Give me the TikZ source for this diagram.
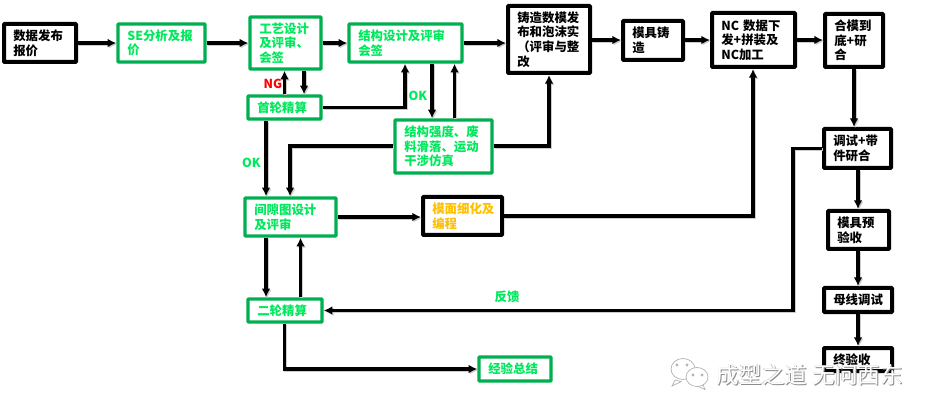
\documentclass[tikz,border=0pt]{standalone}
\usepackage{fontspec}
\setmainfont{Noto Sans CJK SC}
\usetikzlibrary{arrows.meta,shadows,calc}
\definecolor{gborder}{HTML}{00B050}
\definecolor{gtext}{HTML}{00E85C}
\definecolor{otext}{HTML}{FFC000}
\definecolor{wm}{HTML}{8C8C8C}
\tikzset{
  x=0.75pt,y=-0.75pt,
  txtfont/.style={font=\fontsize{9.3pt}{11pt}\selectfont\bfseries},
  boxbase/.style={txtfont,rectangle,rounded corners=0.6pt,fill=white,inner sep=0pt,align=left,
     drop shadow={shadow xshift=0.8pt,shadow yshift=-0.8pt,opacity=.2,fill=black}},
  gbox/.style={boxbase,draw=gborder,line width=2.6pt,text=gtext},
  kbox/.style={boxbase,draw=black,line width=3pt,text=black},
  obox/.style={boxbase,draw=black,line width=3pt,text=otext},
  conn/.style={draw=black,line width=2.4pt,-{Latex[length=6.5pt,width=6.5pt]},
     preaction={draw=black!20,line width=2.4pt,transform canvas={shift={(0.9pt,-0.9pt)}}}},
  lab/.style={txtfont,inner sep=0pt},
  wmtext/.style={font=\fontsize{17pt}{18pt}\selectfont,inner sep=0pt,anchor=west},
  wmbub/.style={draw=wm!70,line width=0.5pt,fill=white},
}
% name, x1,y1,x2,y2 (outer edges in px), style, text
\newcommand{\bx}[7]{%
  \pgfmathsetmacro{\cxx}{(#2+#4)/2}%
  \pgfmathsetmacro{\cyy}{(#3+#5)/2}%
  \pgfmathsetmacro{\wdd}{(#4-#2)*0.75-3}%
  \pgfmathsetmacro{\htt}{(#5-#3)*0.75-3}%
  \pgfmathsetmacro{\tww}{\wdd-14}%
  \node[#6,minimum width=\wdd pt,minimum height=\htt pt,text width=\tww pt] (#1) at (\cxx,\cyy) {#7};%
}
\begin{document}
\begin{tikzpicture}
\fill[white] (0,0) rectangle (934,416);
\useasboundingbox (0,0) rectangle (934,416);
% column helpers
\coordinate (c266) at (266,0);
\coordinate (c284) at (284.5,0);
\coordinate (c290) at (290,0);
\coordinate (c300) at (300.5,0);
\coordinate (c304) at (304,0);
\coordinate (c405) at (405,0);
\coordinate (c432) at (432,0);
\coordinate (c454) at (454.5,0);
\coordinate (c549) at (549,0);
\coordinate (c753) at (753,0);
\coordinate (c793) at (793,0);
\coordinate (c854) at (854,0);
\coordinate (c858) at (858,0);
\coordinate (r40) at (0,40);
\coordinate (r43) at (0,43);
\coordinate (r146) at (0,146);
% boxes
\bx{ds}{2}{22}{78}{64}{kbox}{数据发布\\报价}
\bx{se}{116}{22}{207}{64}{gbox}{SE分析及报\\价}
\bx{gy}{248}{15}{323}{71}{gbox}{工艺设计\\及评审、\\会签}
\bx{jg}{347}{22}{464}{64}{gbox}{结构设计及评审\\会签}
\bx{sl}{246}{94}{323}{121}{gbox}{首轮精算}
\bx{qd}{393}{118}{494}{175}{gbox}{结构强度、废\\料滑落、运动\\干涉仿真}
\bx{jx}{243}{196}{338}{238}{gbox}{间隙图设计\\及评审}
\bx{mm}{421}{195}{504}{237}{obox}{模面细化及\\编程}
\bx{el}{246}{297}{324}{324}{gbox}{二轮精算}
\bx{jy}{477}{355}{553}{383}{gbox}{经验总结}
\bx{zz}{506}{4}{592}{75}{kbox}{铸造数模发\\布和泡沫实\\（评审与整\\改}
\bx{mj}{621}{19}{685}{62}{kbox}{模具铸\\造}
\bx{nc}{710}{11}{797}{69}{kbox}{NC 数据下\\发+拼装及\\NC加工}
\bx{hm}{823}{12}{885}{69}{kbox}{合模到\\底+研\\合}
\bx{ts}{822}{127}{893}{170}{kbox}{调试+带\\件研合}
\bx{ys}{826}{209}{891}{251}{kbox}{模具预\\验收}
\bx{mx}{822}{286}{894}{314}{kbox}{母线调试}
\bx{zy}{822}{346}{894}{373}{kbox}{终验收}
% connectors
\draw[conn] (ds.east |- r43) -- (se.west |- r43);
\draw[conn] (se.east |- r43) -- (gy.west |- r43);
\draw[conn] (gy.east |- r43) -- (jg.west |- r43);
\draw[conn] (jg.east |- r43) -- (zz.west |- r43);
\draw[conn] (zz.east |- r40) -- (mj.west |- r40);
\draw[conn] (mj.east |- r40) -- (nc.west |- r40);
\draw[conn] (nc.east |- r40) -- (hm.west |- r40);
\draw[conn] (hm.south -| c854) -- (ts.north -| c854);
\draw[conn] (ts.south -| c858) -- (ys.north -| c858);
\draw[conn] (ys.south -| c858) -- (mx.north -| c858);
\draw[conn] (mx.south -| c858) -- (zy.north -| c858);
\draw[conn] (sl.north -| c284) -- (gy.south -| c284);
\draw[conn] (gy.south -| c304) -- (sl.north -| c304);
\draw[conn] (sl.east) -- (sl.east -| c405) -- (jg.south -| c405);
\draw[conn] (jg.south -| c432) -- (qd.north -| c432);
\draw[conn] (qd.north -| c454) -- (jg.south -| c454);
\draw[conn] (qd.west |- r146) -- (c290 |- r146) -- (jx.north -| c290);
\draw[conn] (sl.south -| c266) -- (jx.north -| c266);
\draw[conn] (qd.east |- r146) -- (c549 |- r146) -- (zz.south -| c549);
\draw[conn] (jx.south -| c266) -- (el.north -| c266);
\draw[conn] (el.north -| c300) -- (jx.south -| c300);
\draw[conn] (jx.east) -- (mm.west |- jx.east);
\draw[conn] (mm.east) -- (mm.east -| c753) -- (nc.south -| c753);
\draw[conn] (ts.west) -- (ts.west -| c793) -- (el.east -| c793) -- (el.east);
\draw[conn] (el.south -| c284) -- (jy.west -| c284) -- (jy.west);
% labels
\node[lab,text=red] (lng) at (273,84) {NG};
\node[lab,text=gtext] (lok1) at (418,95.5) {OK};
\node[lab,text=gtext] (lok2) at (251.5,163) {OK};
\node[lab,text=gtext] (lfk) at (507,297) {反馈};
% watermark
\begin{scope}
\path[wmbub] (675,380) -- (672,386) -- (681,381.5) -- cycle;
\draw[wmbub] (683,369) ellipse (12 and 10.5);
\draw[wm!70,line width=0.5pt] (677,365) circle (1.2) (687,365) circle (1.2);
\draw[wmbub] (703,385) -- (705,389.5) -- (697,386) -- cycle;
\draw[wmbub] (697,377) ellipse (11 and 9.5);
\draw[wm!70,line width=0.5pt] (693,375) circle (1.1) (702,375) circle (1.1);
\end{scope}
\node[wmtext,text=wm!50] (w1h) at (716,374.4) {成型之道 无问西东};
\node[wmtext,text=wm] (w1s) at (717.6,376) {成型之道 无问西东};
\node[wmtext,text=white] (w1) at (716.6,375) {成型之道 无问西东};
\end{tikzpicture}
\end{document}
